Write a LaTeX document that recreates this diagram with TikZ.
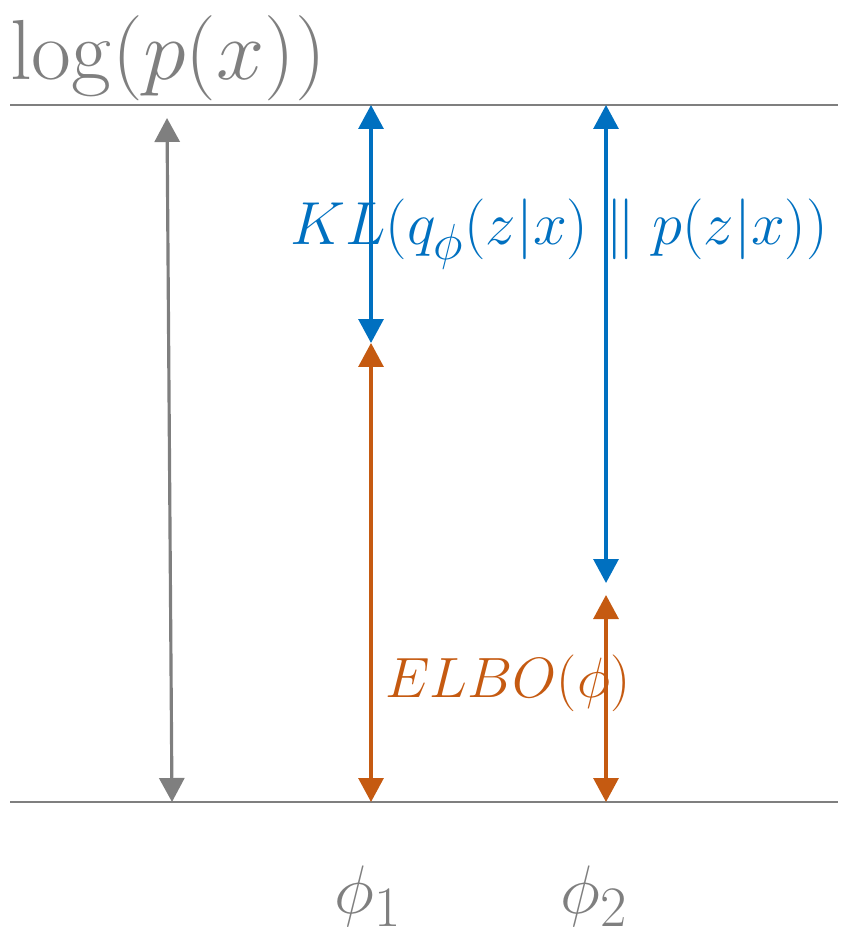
\documentclass[tikz,border=0pt]{standalone}
\usepackage{amsmath}
\usepackage{tikz}
\usetikzlibrary{arrows.meta}

\definecolor{axisgray}{HTML}{7F7F7F}
\definecolor{klblue}{HTML}{0070C0}
\definecolor{elboorange}{HTML}{C55A11}

\tikzset{
    level/.style={draw=axisgray, line width=1.1pt},
    gap/.style={line width=1.8pt, {Triangle[length=0.48cm,width=0.5cm]}-{Triangle[length=0.48cm,width=0.5cm]}},
    lbl/.style={inner sep=0pt, font=\Huge}
}

\begin{document}
\begin{tikzpicture}[x=0.02cm, y=-0.02cm]
        \useasboundingbox (0,0) rectangle (860,935);

        % Levels
        \coordinate (topL) at (10,105);
        \coordinate (topR) at (838,105);
        \coordinate (botL) at (10,802);
        \coordinate (botR) at (838,802);
        \draw[level] (topL) -- (topR);
        \draw[level] (botL) -- (botR);

        % Arrow end points
        \coordinate (logT) at (167,118);
        \coordinate (logB) at (172,802);
        \coordinate (oneT) at (371,105);
        \coordinate (oneM) at (371,343);
        \coordinate (oneB) at (371,802);
        \coordinate (twoT) at (606,105);
        \coordinate (twoM) at (606,583);
        \coordinate (twoN) at (606,595);
        \coordinate (twoB) at (606,802);

        % Draw the gaps
        \draw[gap, axisgray] (logT) -- (logB);
        \draw[gap, klblue] (oneT) -- (oneM);
        \draw[gap, elboorange] (oneM) -- (oneB);
        \draw[gap, klblue] (twoT) -- (twoM);
        \draw[gap, elboorange] (twoN) -- (twoB);

        % Add labels
        \node[lbl, anchor=base west, text=axisgray] (logp) at (10,80)
            {\scalebox{1.98}[1.95]{$\log(p(x))$}};
        \node[lbl, anchor=base west, text=klblue] (kl) at (290,245)
            {\scalebox{1.39}{$KL(q_\phi(z|x)\parallel p(z|x))$}};
        \node[lbl, anchor=base west, text=elboorange] (elbo) at (385,697)
            {\scalebox{1.3}{$ELBO(\phi)$}};
        \node[lbl, anchor=base, text=axisgray] (phione) at (368,913)
            {\scalebox{1.57}{$\phi_1$}};
        \node[lbl, anchor=base, text=axisgray] (phitwo) at (594,913)
            {\scalebox{1.57}{$\phi_2$}};
    \end{tikzpicture}
\end{document}
